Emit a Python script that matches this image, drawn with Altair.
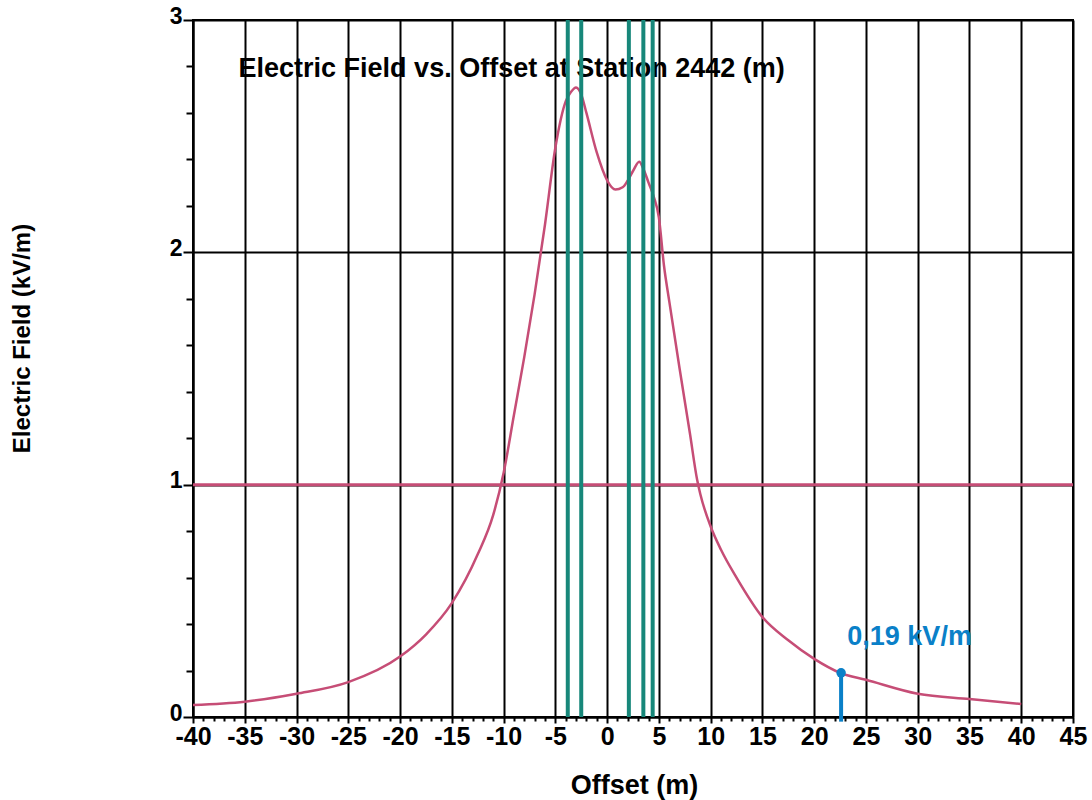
import altair as alt
import pandas as pd

# Electric field profile
offset = [-40, -35, -30, -25, -20, -17.5, -15, -12.5, -11, -10, -9, -8, -7, -6, -5,
          -4, -3.5, -3, -2.5, -2, -1, 0, 0.8, 1.5, 2, 2.5, 3.1, 3.5, 4, 4.5,
          5, 5.5, 6, 7, 8, 8.7, 9, 10, 11, 12.5, 15, 17.5, 20, 22.5, 25, 30, 35, 40]
field = [0.052, 0.066, 0.10, 0.15, 0.26, 0.355, 0.49, 0.70, 0.87, 1.05, 1.30, 1.55, 1.82, 2.12, 2.45,
         2.65, 2.69, 2.71, 2.68, 2.60, 2.43, 2.31, 2.27, 2.28, 2.31, 2.35, 2.39, 2.36, 2.30, 2.24,
         2.15, 1.94, 1.79, 1.50, 1.22, 1.02, 0.96, 0.82, 0.72, 0.60, 0.43, 0.33, 0.25, 0.19, 0.16,
         0.10, 0.077, 0.056]

# conductor positions (green lines)
conductors = [-3.8, -2.5, 2.1, 3.5, 4.4]
# limit line
limit = [1.0]
# marker
marker_offset = [22.6]
marker_value = [0.19]
marker_base = [-0.02]
marker_label = ["0,19 kV/m"]
label_pos = [23.2, 0.345]

title_text = "Electric Field vs. Offset at Station 2442 (m)"
title_pos = [-35.6, 2.79]

x_ticks = list(range(-40, 46))
y_ticks = [round(i * 0.2, 1) for i in range(16)]

FONT = "Liberation Sans"
RED = "#c64d76"
GREEN = "#17877a"
BLUE = "#0a80c8"

x_scale = alt.Scale(domain=[-40, 45], nice=False, zero=False)
y_scale = alt.Scale(domain=[0, 3], nice=False)

is5 = "datum.value % 5 === 0"
isInt = "abs(datum.value - round(datum.value)) < 0.001"

x_axis = alt.Axis(
    values=x_ticks,
    title="Offset (m)",
    labelExpr=f"{is5} ? '' + datum.value : ''",
    labelOverlap=False,
    labelFlush=False,
    labelFont=FONT, labelFontWeight="bold", labelFontSize=25, labelColor="black",
    labelPadding=1,
    grid=True, gridColor="black", gridWidth=2,
    gridOpacity={"condition": {"test": is5, "value": 1}, "value": 0},
    tickColor="black", tickWidth=2,
    tickSize={"condition": {"test": is5, "value": 6}, "value": 4},
    domainColor="black", domainWidth=2,
    titleFont=FONT, titleFontWeight="bold", titleFontSize=27, titleColor="black",
    titleX=441, titleY=68, titleAlign="center", titleBaseline="middle",
)
y_axis = alt.Axis(
    values=y_ticks,
    title="Electric Field (kV/m)",
    labelExpr=f"{isInt} ? '' + round(datum.value) : ''",
    labelOverlap=False,
    labelFlush=False,
    labelFont=FONT, labelFontWeight="bold", labelFontSize=23, labelColor="black",
    labelPadding=1, labelOffset=-4,
    grid=True, gridColor="black", gridWidth=2,
    gridOpacity={"condition": {"test": isInt, "value": 1}, "value": 0},
    tickColor="black", tickWidth=2,
    tickSize={"condition": {"test": isInt, "value": 10}, "value": 7},
    domainColor="black", domainWidth=2,
    titleFont=FONT, titleFontWeight="bold", titleFontSize=24, titleColor="black",
    titleX=-171, titleY=318, titleAngle=-90, titleAlign="center", titleBaseline="middle",
)

X = alt.X("offset:Q", scale=x_scale, axis=x_axis)
Y = alt.Y("field:Q", scale=y_scale, axis=y_axis)

curve_df = pd.DataFrame({"offset": offset, "field": field})
cond_df = pd.DataFrame({"offset": conductors})
limit_df = pd.DataFrame({"field": limit})
marker_df = pd.DataFrame({"offset": marker_offset, "field": marker_value, "field2": marker_base})
label_df = pd.DataFrame({"offset": [label_pos[0]], "field": [label_pos[1]], "t": marker_label})
title_df = pd.DataFrame({"offset": [title_pos[0]], "field": [title_pos[1]], "t": [title_text]})

limit_rule = alt.Chart(limit_df).mark_rule(color=RED, strokeWidth=3).encode(y=Y)
curve = alt.Chart(curve_df).mark_line(color=RED, strokeWidth=2.5, interpolate="monotone").encode(x=X, y=Y)
title = alt.Chart(title_df).mark_text(
    font=FONT, fontWeight="bold", fontSize=27, color="black", align="left", baseline="middle"
).encode(x=X, y=Y, text="t:N")
green = alt.Chart(cond_df).mark_rule(color=GREEN, strokeWidth=4).encode(x=X)
blue_rule = alt.Chart(marker_df).mark_rule(color=BLUE, strokeWidth=4).encode(
    x=X, y=Y, y2=alt.Y2("field2:Q"))
blue_dot = alt.Chart(marker_df).mark_point(
    color=BLUE, filled=True, opacity=1, size=90, shape="circle").encode(x=X, y=Y)
blue_text = alt.Chart(label_df).mark_text(
    font=FONT, fontWeight="bold", fontSize=27, color=BLUE, align="left", baseline="middle"
).encode(x=X, y=Y, text="t:N")

chart = alt.layer(limit_rule, curve, title, green, blue_rule, blue_dot, blue_text).properties(
    width=880, height=697,
    autosize=alt.AutoSizeParams(type="none"),
    padding={"left": 193, "top": 20, "right": 19, "bottom": 83},
    background="white",
).configure_view(stroke="black", strokeWidth=2)

chart.save("out.html", embed_options={"renderer": "svg", "actions": False})
